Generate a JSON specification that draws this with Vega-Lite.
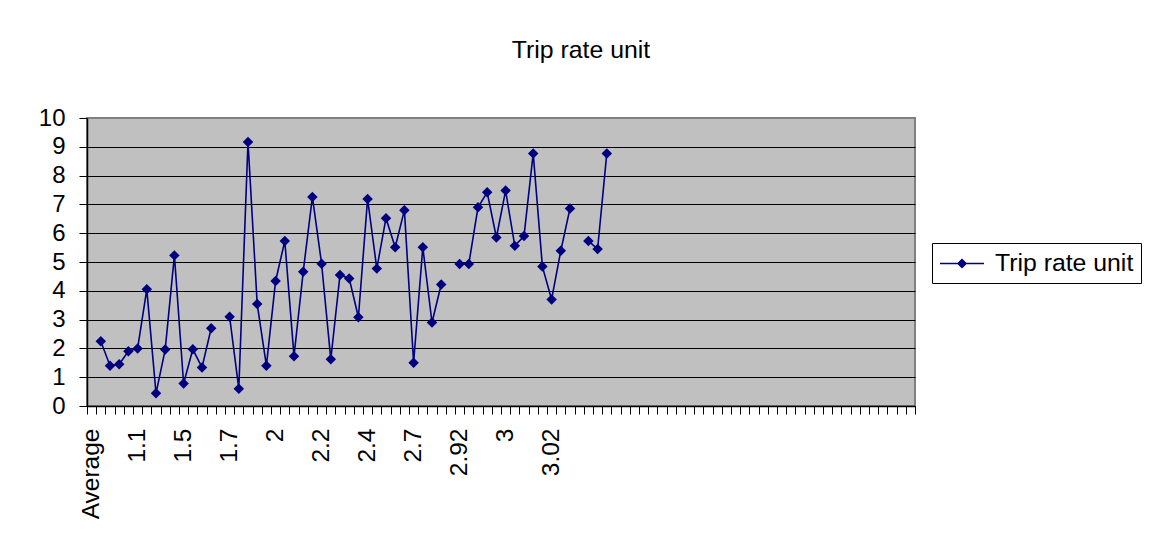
{
  "$schema": "https://vega.github.io/schema/vega-lite/v6.json",
  "width": 828,
  "height": 288,
  "autosize": {"type": "none"},
  "padding": {"left": 87, "top": 118, "right": 237, "bottom": 138},
  "background": "white",
  "title": {"text": "Trip rate unit", "fontSize": 24.8, "font": "Liberation Sans", "fontWeight": "normal", "color": "black", "anchor": "middle", "dx": 80, "offset": 43},
  "data": {"values": [
    {"category": "Average", "value": null, "series": "Trip rate unit"},
    {"category": "#1", "value": 2.25, "series": "Trip rate unit"},
    {"category": "#2", "value": 1.4, "series": "Trip rate unit"},
    {"category": "#3", "value": 1.45, "series": "Trip rate unit"},
    {"category": "#4", "value": 1.9, "series": "Trip rate unit"},
    {"category": "1.1", "value": 2.0, "series": "Trip rate unit"},
    {"category": "#6", "value": 4.05, "series": "Trip rate unit"},
    {"category": "#7", "value": 0.44, "series": "Trip rate unit"},
    {"category": "#8", "value": 1.96, "series": "Trip rate unit"},
    {"category": "#9", "value": 5.23, "series": "Trip rate unit"},
    {"category": "1.5", "value": 0.78, "series": "Trip rate unit"},
    {"category": "#11", "value": 1.97, "series": "Trip rate unit"},
    {"category": "#12", "value": 1.34, "series": "Trip rate unit"},
    {"category": "#13", "value": 2.7, "series": "Trip rate unit"},
    {"category": "#14", "value": null, "series": "Trip rate unit"},
    {"category": "1.7", "value": 3.1, "series": "Trip rate unit"},
    {"category": "#16", "value": 0.6, "series": "Trip rate unit"},
    {"category": "#17", "value": 9.17, "series": "Trip rate unit"},
    {"category": "#18", "value": 3.54, "series": "Trip rate unit"},
    {"category": "#19", "value": 1.4, "series": "Trip rate unit"},
    {"category": "2", "value": 4.34, "series": "Trip rate unit"},
    {"category": "#21", "value": 5.73, "series": "Trip rate unit"},
    {"category": "#22", "value": 1.73, "series": "Trip rate unit"},
    {"category": "#23", "value": 4.66, "series": "Trip rate unit"},
    {"category": "#24", "value": 7.26, "series": "Trip rate unit"},
    {"category": "2.2", "value": 4.94, "series": "Trip rate unit"},
    {"category": "#26", "value": 1.62, "series": "Trip rate unit"},
    {"category": "#27", "value": 4.55, "series": "Trip rate unit"},
    {"category": "#28", "value": 4.43, "series": "Trip rate unit"},
    {"category": "#29", "value": 3.08, "series": "Trip rate unit"},
    {"category": "2.4", "value": 7.19, "series": "Trip rate unit"},
    {"category": "#31", "value": 4.77, "series": "Trip rate unit"},
    {"category": "#32", "value": 6.52, "series": "Trip rate unit"},
    {"category": "#33", "value": 5.51, "series": "Trip rate unit"},
    {"category": "#34", "value": 6.8, "series": "Trip rate unit"},
    {"category": "2.7", "value": 1.5, "series": "Trip rate unit"},
    {"category": "#36", "value": 5.51, "series": "Trip rate unit"},
    {"category": "#37", "value": 2.9, "series": "Trip rate unit"},
    {"category": "#38", "value": 4.22, "series": "Trip rate unit"},
    {"category": "#39", "value": null, "series": "Trip rate unit"},
    {"category": "2.92", "value": 4.93, "series": "Trip rate unit"},
    {"category": "#41", "value": 4.93, "series": "Trip rate unit"},
    {"category": "#42", "value": 6.9, "series": "Trip rate unit"},
    {"category": "#43", "value": 7.42, "series": "Trip rate unit"},
    {"category": "#44", "value": 5.85, "series": "Trip rate unit"},
    {"category": "3", "value": 7.48, "series": "Trip rate unit"},
    {"category": "#46", "value": 5.56, "series": "Trip rate unit"},
    {"category": "#47", "value": 5.9, "series": "Trip rate unit"},
    {"category": "#48", "value": 8.77, "series": "Trip rate unit"},
    {"category": "#49", "value": 4.84, "series": "Trip rate unit"},
    {"category": "3.02", "value": 3.7, "series": "Trip rate unit"},
    {"category": "#51", "value": 5.39, "series": "Trip rate unit"},
    {"category": "#52", "value": 6.86, "series": "Trip rate unit"},
    {"category": "#53", "value": null, "series": "Trip rate unit"},
    {"category": "#54", "value": 5.73, "series": "Trip rate unit"},
    {"category": "#55", "value": 5.45, "series": "Trip rate unit"},
    {"category": "#56", "value": 8.77, "series": "Trip rate unit"},
    {"category": "#57", "value": null, "series": "Trip rate unit"},
    {"category": "#58", "value": null, "series": "Trip rate unit"},
    {"category": "#59", "value": null, "series": "Trip rate unit"},
    {"category": "#60", "value": null, "series": "Trip rate unit"},
    {"category": "#61", "value": null, "series": "Trip rate unit"},
    {"category": "#62", "value": null, "series": "Trip rate unit"},
    {"category": "#63", "value": null, "series": "Trip rate unit"},
    {"category": "#64", "value": null, "series": "Trip rate unit"},
    {"category": "#65", "value": null, "series": "Trip rate unit"},
    {"category": "#66", "value": null, "series": "Trip rate unit"},
    {"category": "#67", "value": null, "series": "Trip rate unit"},
    {"category": "#68", "value": null, "series": "Trip rate unit"},
    {"category": "#69", "value": null, "series": "Trip rate unit"},
    {"category": "#70", "value": null, "series": "Trip rate unit"},
    {"category": "#71", "value": null, "series": "Trip rate unit"},
    {"category": "#72", "value": null, "series": "Trip rate unit"},
    {"category": "#73", "value": null, "series": "Trip rate unit"},
    {"category": "#74", "value": null, "series": "Trip rate unit"},
    {"category": "#75", "value": null, "series": "Trip rate unit"},
    {"category": "#76", "value": null, "series": "Trip rate unit"},
    {"category": "#77", "value": null, "series": "Trip rate unit"},
    {"category": "#78", "value": null, "series": "Trip rate unit"},
    {"category": "#79", "value": null, "series": "Trip rate unit"},
    {"category": "#80", "value": null, "series": "Trip rate unit"},
    {"category": "#81", "value": null, "series": "Trip rate unit"},
    {"category": "#82", "value": null, "series": "Trip rate unit"},
    {"category": "#83", "value": null, "series": "Trip rate unit"},
    {"category": "#84", "value": null, "series": "Trip rate unit"},
    {"category": "#85", "value": null, "series": "Trip rate unit"},
    {"category": "#86", "value": null, "series": "Trip rate unit"},
    {"category": "#87", "value": null, "series": "Trip rate unit"},
    {"category": "#88", "value": null, "series": "Trip rate unit"},
    {"category": "#89", "value": null, "series": "Trip rate unit"}
  ]},
  "encoding": {
    "x": {
      "field": "category", "type": "nominal", "sort": null,
      "scale": {"type": "band", "paddingInner": 0, "paddingOuter": 0},
      "axis": {
        "title": null, "labelAngle": -90, "labelFontSize": 24.5, "labelFont": "Liberation Sans",
        "labelColor": "black", "labelPadding": 14, "tickBand": "extent", "tickSize": 8,
        "tickColor": "black", "domainColor": "black", "domainWidth": 1.5,
        "labelExpr": "(isString(datum.label) && substring(datum.label, 0, 1) != '#') ? datum.label : ''",
        "labelOverlap": false, "grid": false
      }
    },
    "y": {
      "field": "value", "type": "quantitative",
      "scale": {"domain": [0, 10]},
      "axis": {
        "title": null, "values": [0, 1, 2, 3, 4, 5, 6, 7, 8, 9, 10],
        "labelFontSize": 24, "labelFont": "Liberation Sans", "labelColor": "black",
        "labelPadding": 14, "tickSize": 8, "tickColor": "black", "domainColor": "black", "domainWidth": 1.5,
        "grid": true, "gridOpacity": 1, "gridWidth": 1,
        "gridColor": {"condition": {"test": "datum.value == 10", "value": "#808080"}, "value": "black"}
      }
    },
    "color": {
      "field": "series", "type": "nominal",
      "scale": {"range": ["#000080"]},
      "legend": {
        "title": null, "orient": "none", "legendX": 845, "legendY": 125,
        "strokeColor": "black", "fillColor": "white", "padding": 7,
        "labelFontSize": 24.8, "labelFont": "Liberation Sans", "labelColor": "black", "labelOffset": 29,
        "symbolType": "M-1,0L2.52,0M0.76,-0.32L1.08,0L0.76,0.32L0.44,0Z",
        "symbolSize": 625, "symbolStrokeWidth": 1.5,
        "symbolFillColor": "#000080", "symbolStrokeColor": "#000080"
      }
    }
  },
  "layer": [
    {"mark": {"type": "line", "strokeWidth": 1.6, "invalid": "break-paths-show-domains"}, "encoding": {}},
    {"mark": {"type": "point", "shape": "diamond", "filled": true, "size": 110, "opacity": 1}, "encoding": {}}
  ],
  "config": {
    "view": {"fill": "#C0C0C0", "stroke": "#808080", "strokeWidth": 2}
  }
}
